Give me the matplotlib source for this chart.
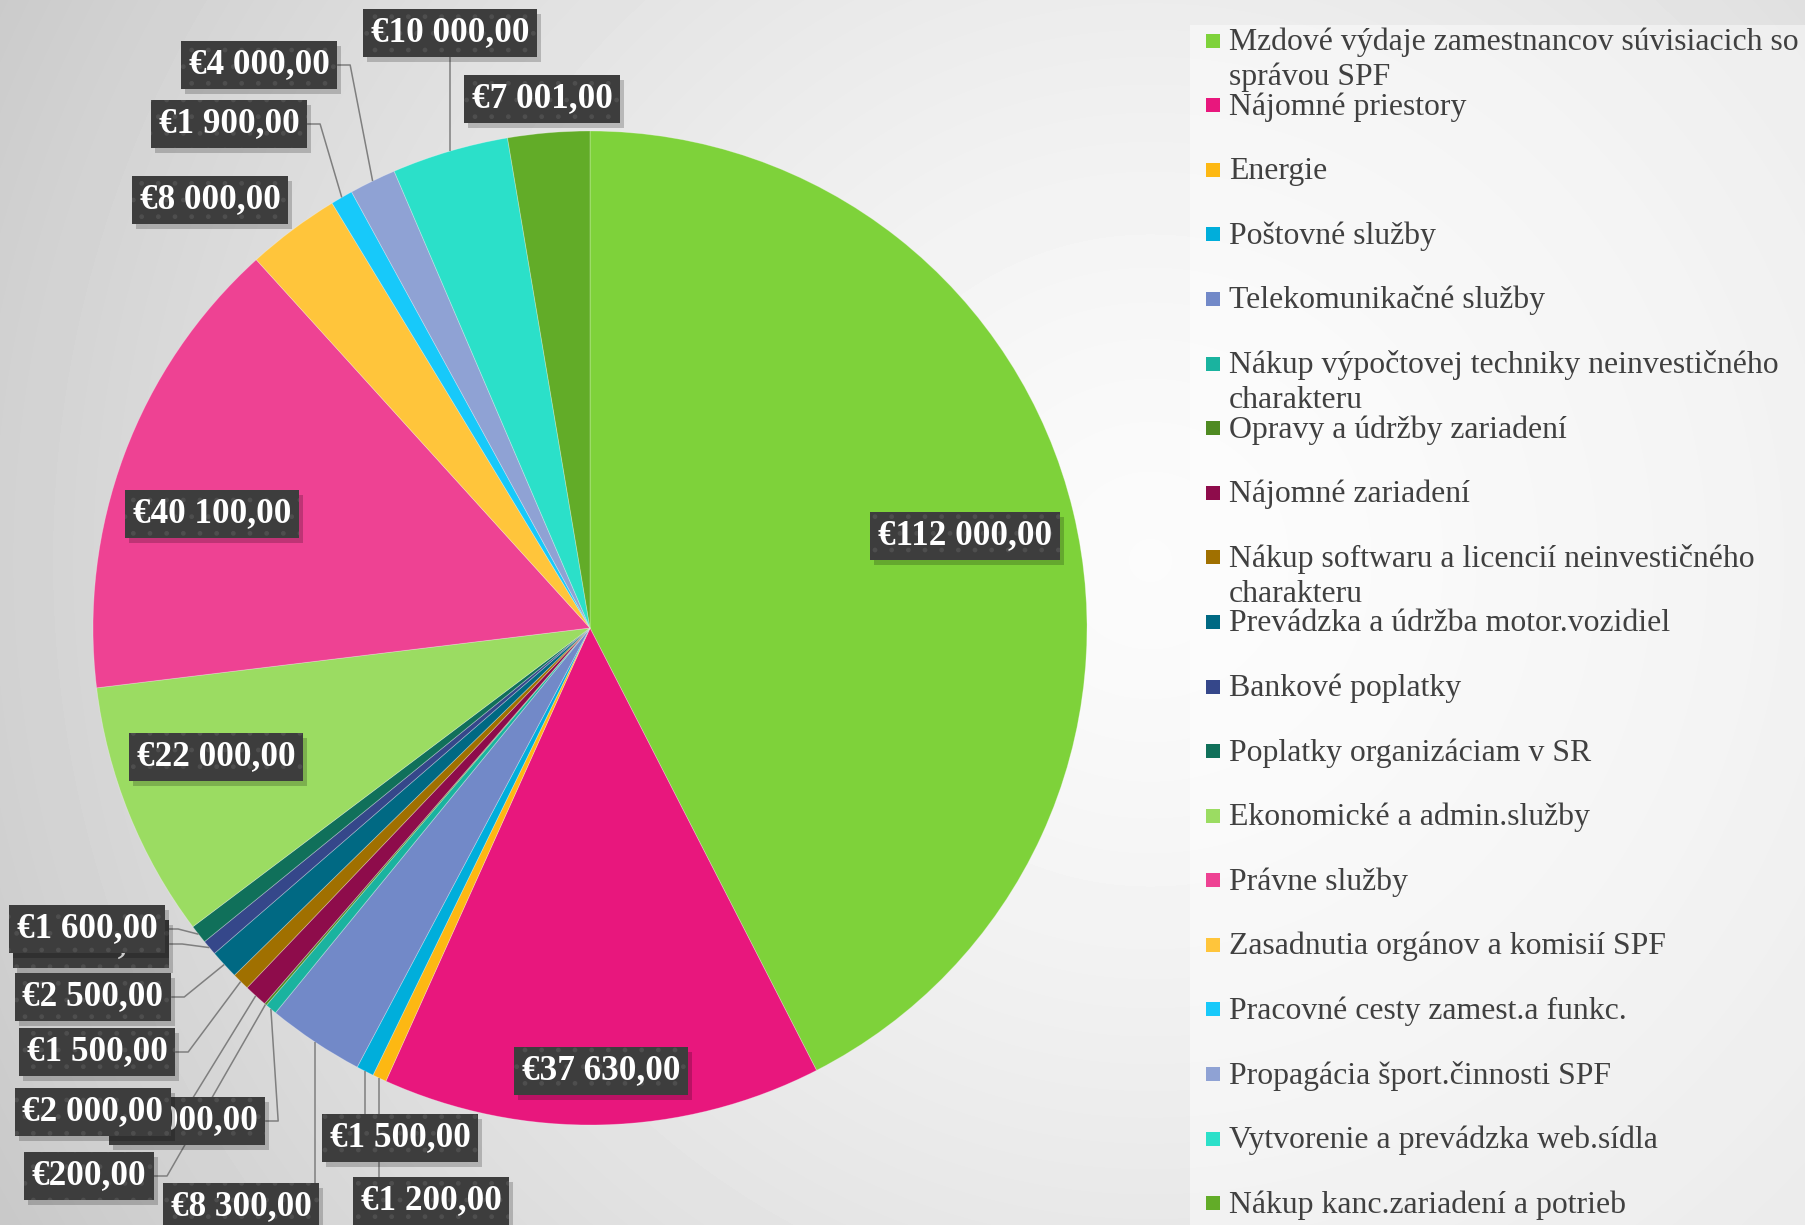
import textwrap
import numpy as np
import matplotlib
matplotlib.use("Agg")
from matplotlib import pyplot as plt
from matplotlib.patches import Rectangle

categories = [
    "Mzdové výdaje zamestnancov súvisiacich so správou SPF",
    "Nájomné priestory",
    "Energie",
    "Poštovné služby",
    "Telekomunikačné služby",
    "Nákup výpočtovej techniky neinvestičného charakteru",
    "Opravy a údržby zariadení",
    "Nájomné zariadení",
    "Nákup softwaru a licencií neinvestičného charakteru",
    "Prevádzka a údržba motor.vozidiel",
    "Bankové poplatky",
    "Poplatky organizáciam v SR",
    "Ekonomické a admin.služby",
    "Právne služby",
    "Zasadnutia orgánov a komisií SPF",
    "Pracovné cesty zamest.a funkc.",
    "Propagácia šport.činnosti SPF",
    "Vytvorenie a prevádzka web.sídla",
    "Nákup kanc.zariadení a potrieb",
]
values = [112000, 37630, 1200, 1500, 8300, 1000, 200, 2000, 1500, 2500,
          1300, 1600, 22000, 40100, 8000, 1900, 4000, 10000, 7001]
colors = ["#7ed23a", "#e8177d", "#fdb813", "#00aedb", "#7289c8", "#1ab39f",
          "#4f8a22", "#8e0c4b", "#a07000", "#006983", "#35478a", "#10705a",
          "#9bdc62", "#ee4293", "#ffc53b", "#17c9fa", "#8fa2d4", "#2be0c9",
          "#62ac28"]

# label box centres (pixels) and leader style
label_pos = [(965, 536), (601, 1071), (431, 1201), (400, 1138), (241, 1207),
             (187, 1121), (89, 1176), (93, 1112), (97, 1052), (93, 997),
             (91, 944), (87, 929), (216, 757), (212, 514), (210, 200),
             (229, 124), (259, 65), (450, 33), (542, 99)]
leader = [None, None, "v", "v", "v", "e", "e", "e", "e", "e", "e", "e",
          None, None, None, "e", "e", "v", None]


def euro(v):
    s = f"{v:,.2f}".replace(",", " ").replace(".", ",")
    return "€" + s


W, H = 1806, 1225
fig = plt.figure(figsize=(W / 100, H / 100), dpi=100)
ax = fig.add_axes([0, 0, 1, 1])

# background
yy, xx = np.mgrid[0:H, 0:W]
d = np.hypot((xx - 1150) / 950, (yy - 560) / 950)
g = np.clip(0.985 - 0.125 * d ** 1.4, 0, 1)
ax.imshow(g, cmap="gray", vmin=0, vmax=1, extent=(0, W, H, 0), zorder=0,
          interpolation="bilinear")
ax.add_patch(Rectangle((1190, 25), W - 1190, H - 25, facecolor="white",
                       alpha=0.45, edgecolor="none", zorder=0.5))

cx, cy, r = 590, 628, 497
wedges, _ = ax.pie(values, colors=colors, startangle=-90, counterclock=True,
                   radius=r, center=(cx, cy),
                   wedgeprops=dict(linewidth=0.6, edgecolor=(1, 1, 1, 0.3)))
for w in wedges:
    w.set_zorder(1)

ax.set_xlim(0, W)
ax.set_ylim(H, 0)
ax.set_aspect("equal")
ax.axis("off")

# data labels
texts = []
for i, (v, (x, y)) in enumerate(zip(values, label_pos)):
    t = ax.text(x, y, euro(v), fontsize=25.3, fontweight="bold",
                family="Liberation Serif", color="white", ha="center",
                va="center", zorder=3.05 + i * 0.1,
                bbox=dict(boxstyle="square,pad=0.22", facecolor="#3d3d3d",
                          edgecolor="#4e4e4e", linewidth=0, hatch="."))
    texts.append(t)

# legend
for i, (name, col) in enumerate(zip(categories, colors)):
    base = 50 + 64.6 * i
    ax.add_patch(Rectangle((1206, base - 16.5), 14, 14, facecolor=col,
                           edgecolor="none", zorder=2))
    for j, line in enumerate(textwrap.wrap(name, 41)):
        ax.text(1229, base + 35 * j, line, fontsize=22.9,
                family="Liberation Serif", color="#404040", va="baseline",
                ha="left", zorder=2)

# shadows and leader lines
fig.canvas.draw()
renderer = fig.canvas.get_renderer()
inv = ax.transData.inverted()
for i, t in enumerate(texts):
    bb = t.get_bbox_patch().get_window_extent(renderer)
    (x0, y0), (x1, y1) = inv.transform([[bb.x0, bb.y0], [bb.x1, bb.y1]])
    left, right = min(x0, x1), max(x0, x1)
    top, bottom = min(y0, y1), max(y0, y1)
    ax.add_patch(Rectangle((left + 4, top + 5), right - left, bottom - top,
                           facecolor="black", alpha=0.2, edgecolor="none",
                           zorder=3 + i * 0.1))
    style = leader[i]
    if style is None:
        continue
    w = wedges[i]
    th = np.deg2rad((w.theta1 + w.theta2) / 2)
    axp, ayp = cx + r * np.cos(th), cy + r * np.sin(th)
    if style == "v":
        ey = top if ayp < top else bottom
        xs, ys = [axp, axp], [ayp, ey]
    else:
        my = (top + bottom) / 2
        xs, ys = [axp, right + 13, right], [ayp, my, my]
    ax.plot(xs, ys, color="#7f7f7f", linewidth=1.1, zorder=2,
            solid_capstyle="butt")

fig.savefig("out.png", dpi=100)
